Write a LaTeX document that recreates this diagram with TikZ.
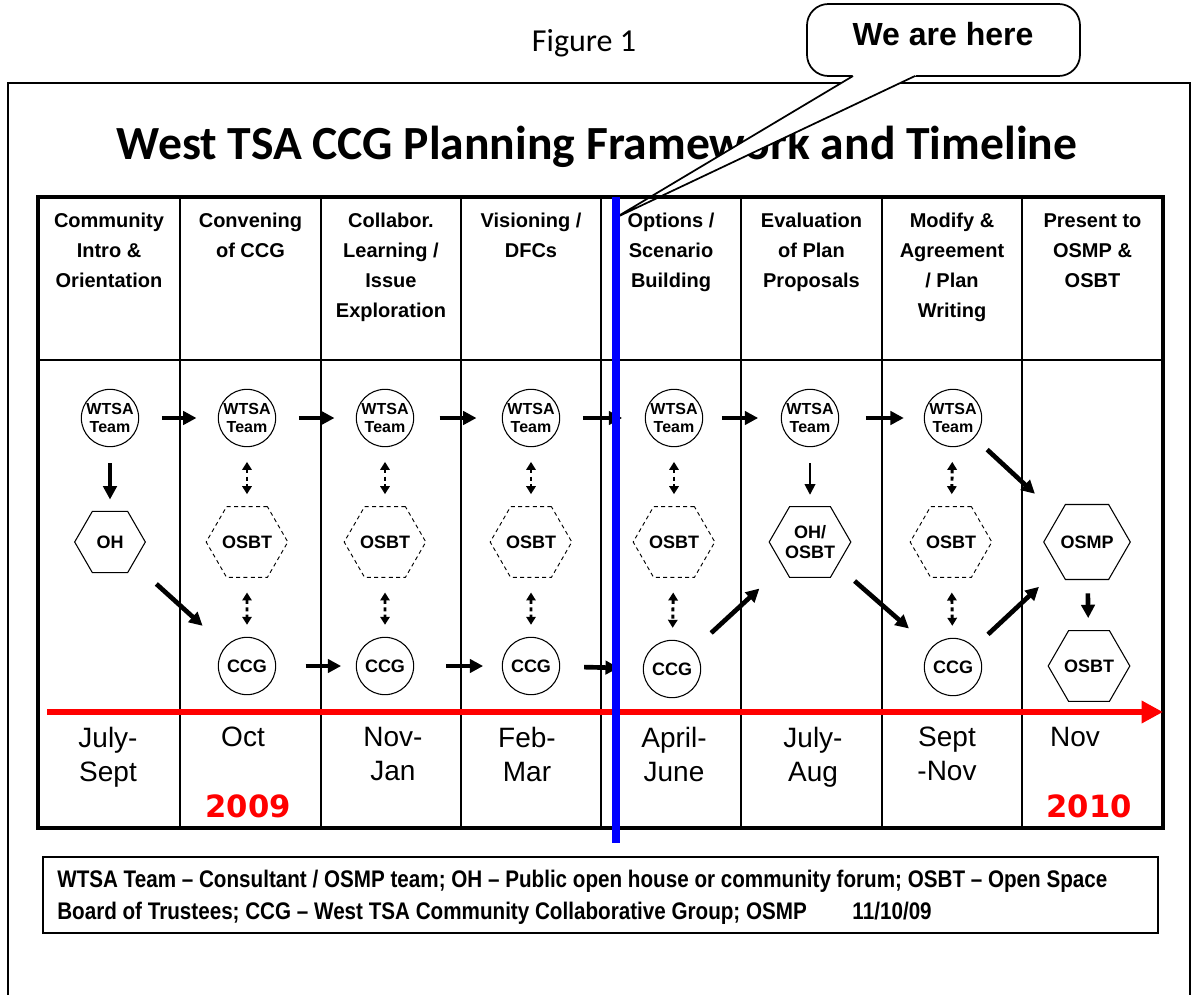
\documentclass[tikz,border=0pt]{standalone}
\usepackage{fontspec}
\setmainfont{Liberation Sans}
\newfontfamily\titlefont{Carlito}
\newfontfamily\yearfont{DejaVu Sans}
\newfontfamily\narrowfont[FakeStretch=0.86]{Liberation Sans}
\usetikzlibrary{shapes.geometric,arrows.meta}

\begin{document}
\begin{tikzpicture}[x=0.75pt,y=-0.75pt,
	team/.style={circle,draw,line width=0.8pt,inner sep=0pt,minimum size=43pt,align=center,font=\bfseries\fontsize{12}{14}\selectfont},
	ccg/.style={circle,draw,line width=0.8pt,inner sep=0pt,minimum size=43pt,font=\bfseries\fontsize{13.5}{15}\selectfont},
	hexa/.style={regular polygon,regular polygon sides=6,draw,line width=0.8pt,inner sep=0pt,minimum size=53pt,align=center,font=\bfseries\fontsize{13.5}{15}\selectfont},
	hexdash/.style={hexa,line width=0.7pt,dash pattern=on 3pt off 2.5pt},
	flow/.style={line width=3.5pt,-{Triangle[length=10pt,width=10pt]}},
	thinflow/.style={line width=1.3pt,-{Triangle[length=8pt,width=8pt]}},
	link/.style={line width=2.2pt,dash pattern=on 3pt off 2.5pt,{Triangle[length=6pt,width=7pt]}-{Triangle[length=6pt,width=7pt]},shorten <=11pt,shorten >=9pt},
	phase/.style={anchor=north,inner sep=0pt,align=center,font=\bfseries\fontsize{15}{22.5}\selectfont},
	month/.style={anchor=north,inner sep=0pt,align=center,font=\fontsize{21}{25.5}\selectfont},
	year/.style={anchor=base,inner sep=0pt,text=red,font=\yearfont\bfseries\fontsize{23}{23}\selectfont}]
	\useasboundingbox (0,0) rectangle (1192,995);
	\draw[line width=1.6pt] (8,995)--(8,83)--(1190,83)--(1190,995);
	\node[anchor=base,inner sep=0pt,font=\titlefont\fontsize{24}{26}\selectfont] (fig) at (584,52) {Figure 1};
	\node[anchor=base,inner sep=0pt,font=\titlefont\bfseries\fontsize{35.7}{38}\selectfont] (title) at (597,160) {West TSA CCG Planning Framework and Timeline};
	\coordinate (tip) at (615,218);
	\coordinate (tailL) at (853,76);
	\coordinate (tailR) at (915,76);
	\draw[line width=1.3pt,fill=white,rounded corners=16pt] (807,4) rectangle (1080,76);
	\fill[white] (851,74) -- (tailL) -- (tip) -- (tailR) -- (917,74) -- cycle;
	\draw[line width=1.3pt] (tailL) -- (tip) -- (tailR);
	\node[anchor=base,inner sep=0pt,font=\bfseries\fontsize{24}{26}\selectfont] (here) at (943,46) {We are here};
	\draw[line width=2.5pt] (38,197) rectangle (1163,828);
	\draw[line width=1pt] (38,360)--(1163,360);
	\draw[line width=1pt] (180,197)--(180,828);
	\draw[line width=1pt] (321,197)--(321,828);
	\draw[line width=1pt] (461,197)--(461,828);
	\draw[line width=1pt] (601,197)--(601,828);
	\draw[line width=1pt] (741,197)--(741,828);
	\draw[line width=1pt] (882,197)--(882,828);
	\draw[line width=1pt] (1022,197)--(1022,828);
	\node[phase] (p1) at (109,213) {Community\\Intro \&\\Orientation};
	\node[phase] (p2) at (250.5,213) {Convening\\of CCG};
	\node[phase] (p3) at (391,213) {Collabor.\\Learning /\\Issue\\Exploration};
	\node[phase] (p4) at (531,213) {Visioning /\\DFCs};
	\node[phase] (p5) at (671,213) {Options /\\Scenario\\Building};
	\node[phase] (p6) at (811.5,213) {Evaluation\\of Plan\\Proposals};
	\node[phase] (p7) at (952,213) {Modify \&\\Agreement\\/ Plan\\Writing};
	\node[phase] (p8) at (1092.5,213) {Present to\\OSMP \&\\OSBT};
	\node[team] (w1) at (110,418) {WTSA\\Team};
	\node[team] (w2) at (247,418) {WTSA\\Team};
	\node[team] (w3) at (385,418) {WTSA\\Team};
	\node[team] (w4) at (531,418) {WTSA\\Team};
	\node[team] (w5) at (674,418) {WTSA\\Team};
	\node[team] (w6) at (810,418) {WTSA\\Team};
	\node[team] (w7) at (953,418) {WTSA\\Team};
	\node[hexa] (oh1) at (110,542) {OH};
	\node[hexdash] (b2) at (247,542) {OSBT};
	\node[hexdash] (b3) at (385,542) {OSBT};
	\node[hexdash] (b4) at (531,542) {OSBT};
	\node[hexdash] (b5) at (674,542) {OSBT};
	\node[hexa] (ob6) at (810,542) {OH/\\OSBT};
	\node[hexdash] (b7) at (951,542) {OSBT};
	\node[hexa] (osmp) at (1087,542) {OSMP};
	\node[ccg] (c2) at (247,666) {CCG};
	\node[ccg] (c3) at (385,666) {CCG};
	\node[ccg] (c4) at (531,666) {CCG};
	\node[ccg] (c5) at (672,669) {CCG};
	\node[ccg] (c7) at (953,667) {CCG};
	\node[hexa] (b8) at (1089,666) {OSBT};
	\draw[flow,shorten <=17pt,shorten >=16pt] (w1)--(w2);
	\draw[flow,shorten <=17pt,shorten >=16pt] (w2)--(w3);
	\draw[flow,shorten <=19pt,shorten >=19pt] (w3)--(w4);
	\draw[flow,shorten <=17pt,shorten >=17pt] (w4)--(w5);
	\draw[flow,shorten <=14pt,shorten >=17pt] (w5)--(w6);
	\draw[flow,shorten <=20pt,shorten >=15pt] (w6)--(w7);
	\draw[flow,shorten <=22pt,shorten >=11pt] (c2)--(c3);
	\draw[flow,shorten <=24pt,shorten >=14pt] (c3)--(c4);
	\draw[flow,shorten <=18pt,shorten >=18pt] (c4)--(c5);
	\draw[flow,shorten <=12pt,shorten >=8.5pt] (w1)--(oh1);
	\draw[flow,shorten <=23pt,shorten >=23pt] (oh1)--(c2);
	\draw[link] (w2)--(b2);
	\draw[link] (b2)--(c2);
	\draw[link] (w3)--(b3);
	\draw[link] (b3)--(c3);
	\draw[link] (w4)--(b4);
	\draw[link] (b4)--(c4);
	\draw[link] (w5)--(b5);
	\draw[link] (b5)--(c5);
	\draw[link] (w7)--(b7);
	\draw[link] (b7)--(c7);
	\draw[flow,shorten <=18pt,shorten >=24pt] (c5)--(ob6);
	\draw[thinflow,shorten <=12pt,shorten >=8.5pt] (w6)--(ob6);
	\draw[flow,shorten <=17pt,shorten >=22pt] (ob6)--(c7);
	\draw[flow,shorten <=13pt,shorten >=24pt] (w7)--(osmp);
	\draw[flow,shorten <=14pt,shorten >=20pt] (c7)--(osmp);
	\draw[flow,shorten <=10pt,shorten >=9pt] (osmp)--(b8);
	\coordinate (t0) at (47,712);
	\coordinate (t1) at (1163,712);
	\draw[red,line width=4.5pt,-{Triangle[length=16pt,width=16pt]}] (t0)--(t1);
	\node[month] (m1) at (108,727) {July-\\Sept};
	\node[month] (m2) at (243,727) {Oct};
	\node[month] (m3) at (393,727) {Nov-\\Jan};
	\node[month] (m4) at (527,727) {Feb-\\Mar};
	\node[month] (m5) at (674,727) {April-\\June};
	\node[month] (m6) at (813,727) {July-\\Aug};
	\node[month] (m7) at (947,727) {Sept\\-Nov};
	\node[month] (m8) at (1075,727) {Nov};
	\node[year] (y09) at (248,817) {2009};
	\node[year] (y10) at (1089,817) {2010};
	\coordinate (now0) at (616,197);
	\coordinate (now1) at (616,843);
	\draw[blue,line width=6pt] (now0)--(now1);
	\draw[line width=2pt] (43,857) rectangle (1158,933);
	\node[anchor=north west,inner sep=0pt,align=left,font=\narrowfont\bfseries\fontsize{18}{24}\selectfont] (key) at (57,870) {WTSA Team \textendash{} Consultant / OSMP team; OH \textendash{} Public open house or community forum; OSBT \textendash{} Open Space\\Board of Trustees; CCG \textendash{} West TSA Community Collaborative Group; OSMP\hspace{1.9em}11/10/09};
\end{tikzpicture}
\end{document}
